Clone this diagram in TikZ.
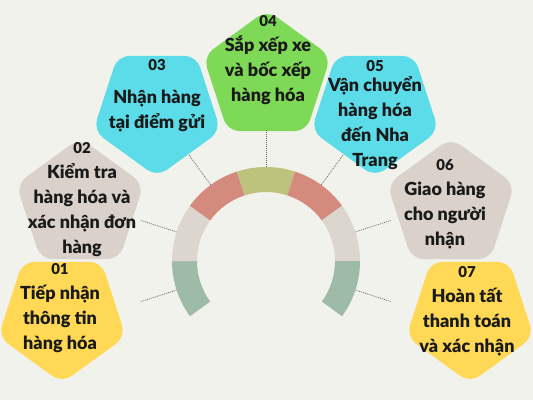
\documentclass[tikz,border=0pt]{standalone}
\usepackage{fontspec}
\setmainfont{Lato}
\newfontfamily\heavyfont{Lato Black}
\usetikzlibrary{shapes.geometric,calc}
\definecolor{bg}{HTML}{F2F2EC}
\definecolor{ink}{HTML}{1A1A1A}
\definecolor{sun}{HTML}{FFD955}
\definecolor{stone}{HTML}{D9D1CA}
\definecolor{aqua}{HTML}{5CDCE8}
\definecolor{leaf}{HTML}{7ED957}
\definecolor{sage}{HTML}{9DBBA6}
\definecolor{sand}{HTML}{DDD6CF}
\definecolor{salmon}{HTML}{D48B7E}
\definecolor{olive}{HTML}{BDC27C}
\definecolor{linkgray}{HTML}{666666}
\newcommand{\numsize}{\fontsize{15}{18}\selectfont}
\begin{document}
\begin{tikzpicture}[
            x=1pt, y=1pt,
            pent/.style={regular polygon, regular polygon sides=5, minimum size=134pt, inner sep=0pt, rounded corners=12pt},
            pointdown/.style={shape border rotate=180},
            txt/.style={align=center, text=ink, font=\heavyfont\fontsize{18}{25}\selectfont},
            link/.style={draw=linkgray, line width=0.7pt, dash pattern=on 1pt off 1pt}
            ]
            \useasboundingbox (0,0) rectangle (533,400);
            \fill[bg] (0,0) rectangle (533,400);
            \coordinate (c) at (266,139);
            \foreach \a/\b/\col in {216/180/sage, 180/144/sand, 144/108/salmon, 108/72/olive, 72/36/salmon, 36/0/sand, 0/-36/sage}
                \fill[\col] ($(c)+(\a:94)$) arc[start angle=\a, end angle=\b, radius=94]
                    -- ($(c)+(\b:69)$) arc[start angle=\b, end angle=\a, radius=69] -- cycle;
            \node[pent, pointdown, fill=sun] (p01) at (62,84) {};
            \node[pent, fill=stone] (p02) at (80,195) {};
            \node[pent, pointdown, fill=aqua] (p03) at (157,290) {};
            \node[pent, fill=leaf] (p04) at (267,323) {};
            \node[pent, pointdown, fill=aqua] (p05) at (375,290) {};
            \node[pent, fill=stone] (p06) at (451,195) {};
            \node[pent, pointdown, fill=sun] (p07) at (470,84) {};
            \node[txt] (t01) at (60,92) {{\numsize 01}\\Tiếp nhận\\thông tin\\hàng hóa};
            \node[txt] (t02) at (82,200) {{\numsize 02}\\Kiểm tra\\hàng hóa và\\xác nhận đơn\\hàng};
            \node[txt] (t03) at (157,304) {{\numsize 03}\\[8pt]Nhận hàng\\tại điểm gửi};
            \node[txt] (t04) at (268,340) {{\numsize 04}\\Sắp xếp xe\\và bốc xếp\\hàng hóa};
            \node[txt] (t05) at (375,285) {{\numsize 05}\\[-5pt]Vận chuyển\\hàng hóa\\đến Nha\\Trang};
            \node[txt] (t06) at (445,196) {{\numsize 06}\\Giao hàng\\cho người\\nhận};
            \node[txt] (t07) at (467,89) {{\numsize 07}\\Hoàn tất\\thanh toán\\và xác nhận};
            \foreach \n/\a in {01/198, 02/162, 03/126, 04/90, 05/54, 06/18, 07/-18} {
                \coordinate (d\n) at ($(c)+(\a:131)$);
                \coordinate (r\n) at ($(c)+(\a:94)$);
                \draw[link] (d\n) -- (r\n);
            }
        \end{tikzpicture}
\end{document}
